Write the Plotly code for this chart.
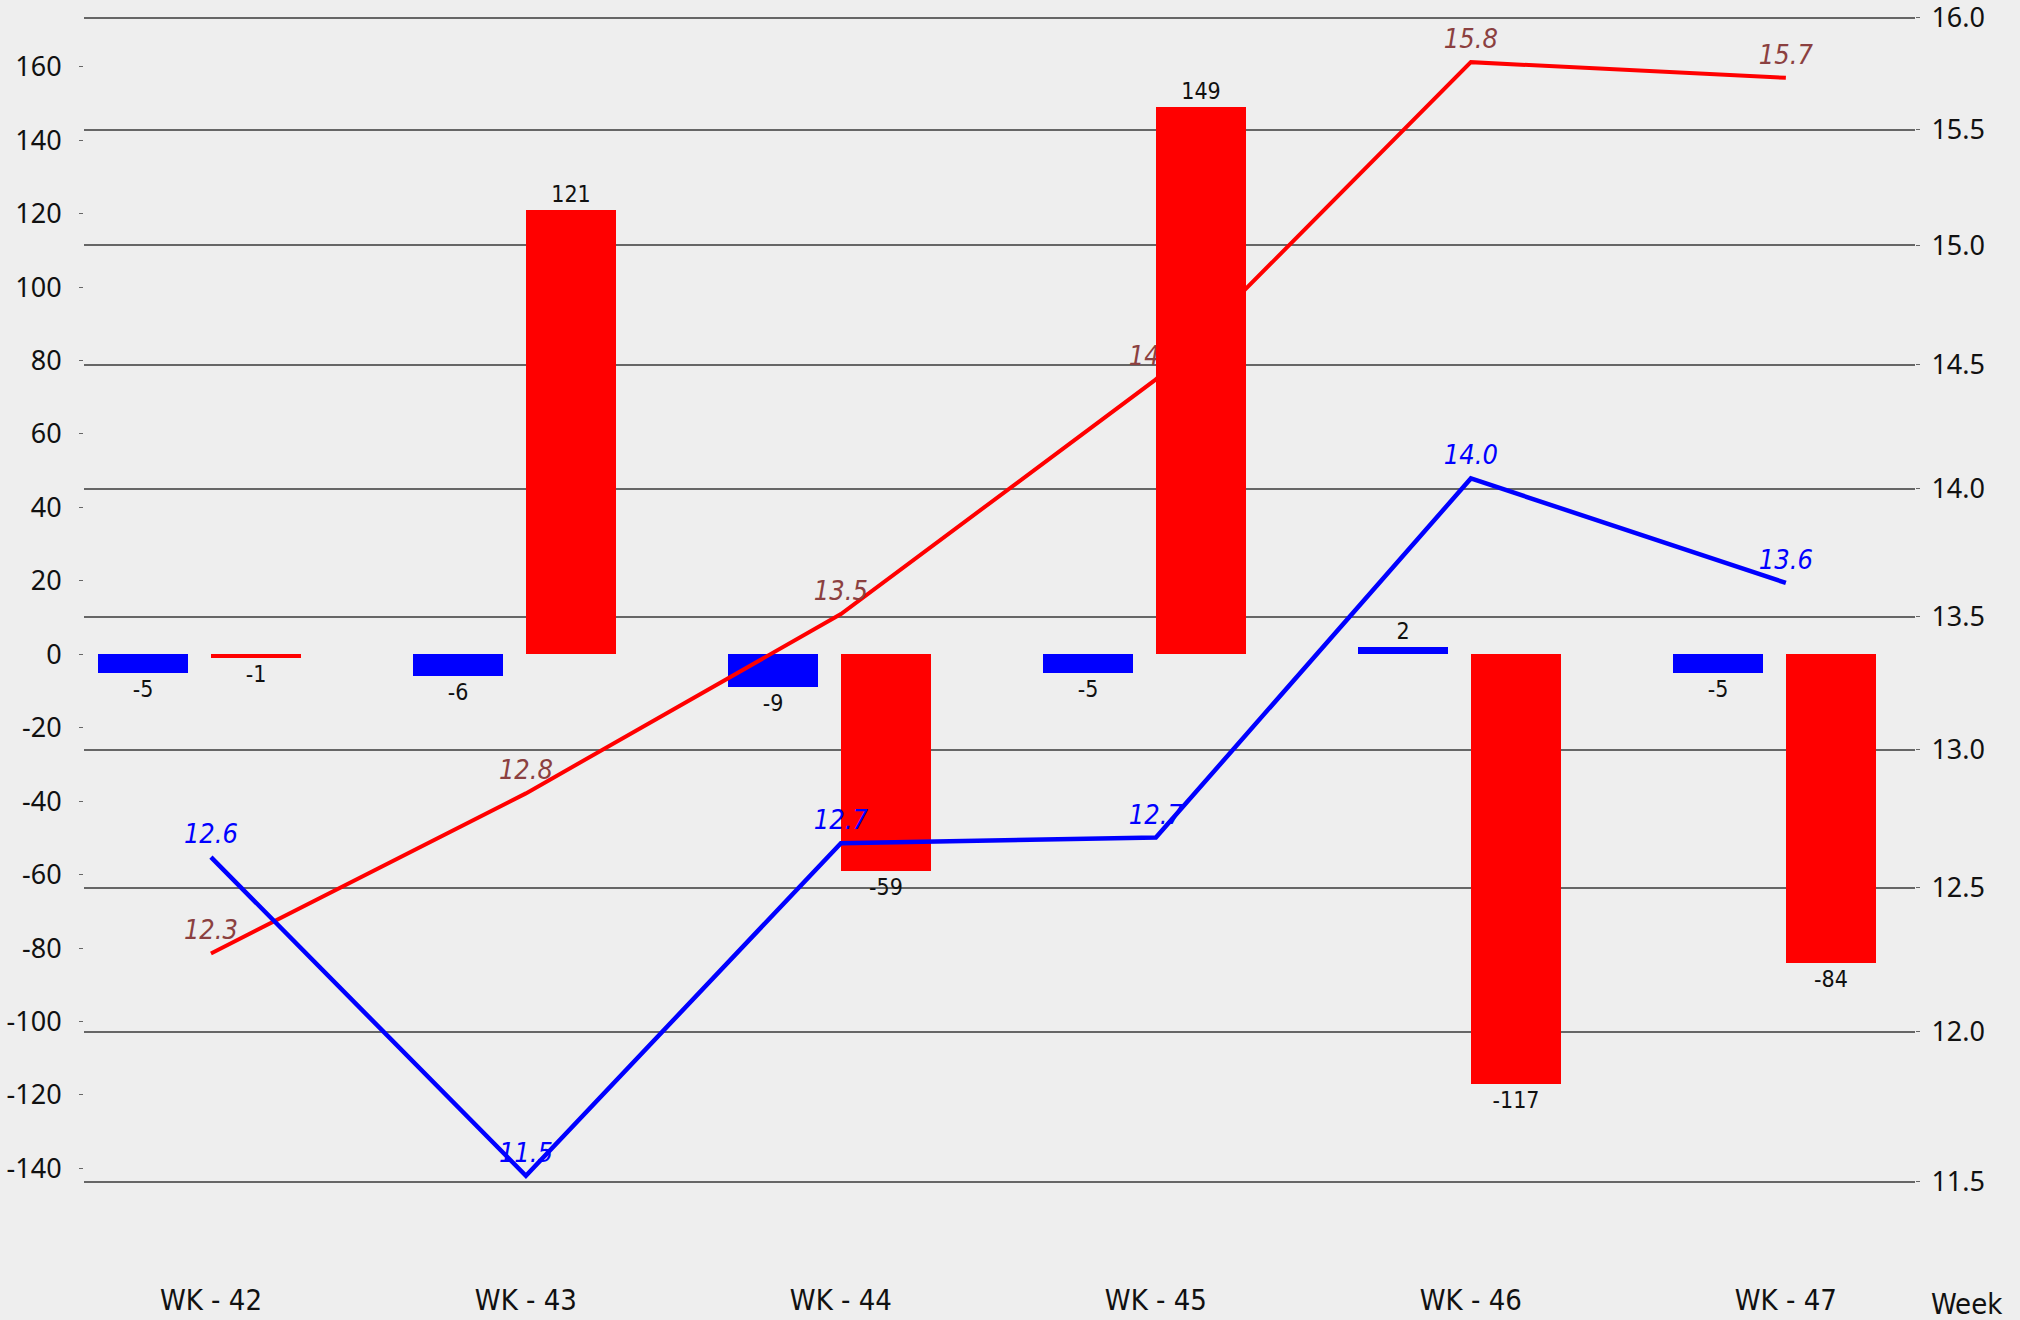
import plotly.graph_objects as go

weeks = ["WK - 42", "WK - 43", "WK - 44", "WK - 45", "WK - 46", "WK - 47"]
blue_bars = [-5, -6, -9, -5, 2, -5]
red_bars = [-1, 121, -59, 149, -117, -84]
blue_line = [12.61, 11.52, 12.66, 12.68, 14.04, 13.63]
red_line = [12.27, 12.84, 13.51, 14.44, 15.80, 15.73]

left_ticks = list(range(-140, 161, 20))
right_ticks = [11.5, 12.0, 12.5, 13.0, 13.5, 14.0, 14.5, 15.0, 15.5, 16.0]

BG = "#EEEEEE"
GRID = "#666666"
NARROW = "Liberation Sans Narrow, DejaVu Sans Condensed, Roboto, sans-serif"
TICKF = "Noto Sans, Open Sans, sans-serif"

xs = list(range(len(weeks)))
BW = 90 / 315
CLEAR = "rgba(0,0,0,0)"

fig = go.Figure()

# blue bars (bottom layer)
fig.add_trace(go.Bar(
    x=xs, y=blue_bars, width=BW, offset=-113 / 315,
    marker=dict(color="#0000FF", line=dict(width=0)),
    text=[str(v) for v in blue_bars], textposition="outside",
    textfont=dict(family=NARROW, size=23, color="#111111"),
    constraintext="none", cliponaxis=False,
    xaxis="x", yaxis="y", showlegend=False,
))

# red line
fig.add_trace(go.Scatter(
    x=xs, y=red_line, mode="lines+markers+text",
    line=dict(color="#FF0000", width=4),
    marker=dict(size=10, color=CLEAR),
    texttemplate="%{y:.1f}", textposition="top center",
    textfont=dict(family=NARROW, size=27, color="rgb(139,64,64)", style="italic"),
    cliponaxis=False, xaxis="x", yaxis="y2", showlegend=False,
))

# red bars
fig.add_trace(go.Bar(
    x=xs, y=red_bars, width=BW, offset=0,
    marker=dict(color="#FF0000", line=dict(width=0)),
    text=[str(v) for v in red_bars], textposition="outside",
    textfont=dict(family=NARROW, size=23, color="#111111"),
    constraintext="none", cliponaxis=False,
    xaxis="x", yaxis="y3", showlegend=False,
))

# blue line (top layer)
fig.add_trace(go.Scatter(
    x=xs, y=blue_line, mode="lines+markers+text",
    line=dict(color="#0000FF", width=4.5),
    marker=dict(size=10, color=CLEAR),
    texttemplate="%{y:.1f}", textposition="top center",
    textfont=dict(family=NARROW, size=27, color="#0000FF", style="italic"),
    cliponaxis=False, xaxis="x", yaxis="y4", showlegend=False,
))

LEFT_RANGE = [-148.6, 174.9]
RIGHT_RANGE = [1.058467, 1.204835]

fig.update_layout(
    width=2020, height=1320,
    paper_bgcolor=BG, plot_bgcolor=BG,
    margin=dict(l=84, r=105, t=12, b=120, pad=0, autoexpand=False),
    bargap=0, barmode="overlay",
    xaxis=dict(
        range=[-0.403, 5.41], tickmode="array", tickvals=xs, ticktext=weeks,
        showgrid=False, zeroline=False, showline=False, ticks="",
        tickfont=dict(family=NARROW, size=29, color="#111111"),
        ticklabelstandoff=80, automargin=False,
    ),
    yaxis=dict(
        range=LEFT_RANGE, tickmode="array", tickvals=left_ticks,
        ticktext=[str(v) for v in left_ticks],
        showgrid=False, zeroline=False, showline=False,
        ticks="outside", ticklen=4, tickwidth=1, tickcolor=GRID,
        tickfont=dict(family=TICKF, size=27, color="#111111"),
        ticklabelstandoff=12, automargin=False, ticklabeloverflow="allow",
    ),
    yaxis2=dict(
        type="log", range=RIGHT_RANGE, overlaying="y", side="right",
        tickmode="array", tickvals=right_ticks,
        ticktext=[f"{v:.1f}" for v in right_ticks],
        showgrid=True, gridcolor=GRID, gridwidth=2,
        zeroline=False, showline=False,
        ticks="outside", ticklen=4, tickwidth=1, tickcolor=GRID,
        tickfont=dict(family=TICKF, size=27, color="#111111"),
        ticklabelstandoff=6, automargin=False, ticklabeloverflow="allow",
    ),
    yaxis3=dict(range=LEFT_RANGE, overlaying="y", visible=False, showgrid=False, zeroline=False),
    yaxis4=dict(type="log", range=RIGHT_RANGE, overlaying="y", visible=False, showgrid=False, zeroline=False),
    annotations=[dict(
        text="Week", xref="paper", yref="paper", x=1.0284, y=-0.0875,
        xanchor="center", yanchor="middle", showarrow=False,
        font=dict(family=NARROW, size=29, color="#111111"),
    )],
)

fig.write_html(
    "out.html",
    config={"displayModeBar": False},
    post_script="document.body.style.margin='0';document.body.style.background='#EEEEEE';",
)
